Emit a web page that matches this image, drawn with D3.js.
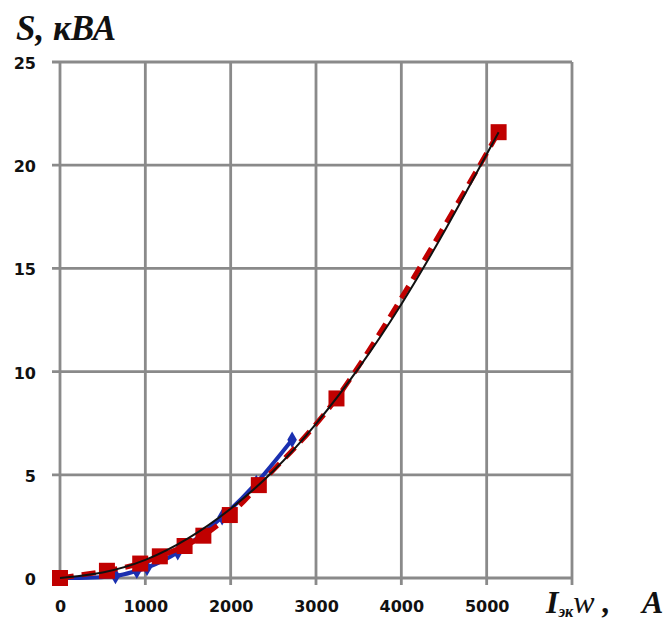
<!DOCTYPE html>
<html>
<head>
<meta charset="utf-8">
<script src="https://cdn.jsdelivr.net/npm/d3@7"></script>
<style>
  body { margin: 0; background: #fff; }
  svg { display: block; }
  .tick text { font-family: "DejaVu Sans", sans-serif; font-weight: bold; font-size: 16px; fill: #111; }
</style>
</head>
<body>
<svg id="chart" width="669" height="625"></svg>
<script>
// ticks
var xTicks = [0, 1000, 2000, 3000, 4000, 5000, 6000];
var yTicks = [0, 5, 10, 15, 20, 25];

// red squares (dashed line)
var redX = [0, 550, 940, 1170, 1460, 1680, 1990, 2330, 3240, 5140];
var redY = [0, 0.35, 0.7, 1.05, 1.55, 2.05, 3.05, 4.5, 8.7, 21.6];

// blue diamonds
var blueX = [0, 650, 900, 1020, 1380, 1900, 2300, 2720];
var blueY = [0, 0.1, 0.35, 0.5, 1.25, 2.95, 4.6, 6.7];

// black trend line
var fitX = [0, 500, 1000, 1500, 2000, 2500, 3000, 3500, 4000, 4500, 5140];
var fitY = [0, 0.2, 0.8, 1.85, 3.3, 5.1, 7.4, 10.1, 13.2, 16.7, 21.6];

var svg = d3.select("#chart");

var x = d3.scaleLinear().domain([0, 6000]).range([60, 572]);
var y = d3.scaleLinear().domain([0, 25]).range([578, 62]);

function zip(xs, ys) { return xs.map(function(v, i) { return [v, ys[i]]; }); }

// grid lines (vertical ones poke out below as ticks)
svg.append("g")
  .selectAll("line")
  .data(xTicks)
  .enter().append("line")
  .attr("x1", function(d) { return x(d); })
  .attr("x2", function(d) { return x(d); })
  .attr("y1", y(25))
  .attr("y2", y(0) + 7)
  .attr("stroke", "#8a8a8a")
  .attr("stroke-width", 2.8);

svg.append("g")
  .selectAll("line")
  .data(yTicks)
  .enter().append("line")
  .attr("x1", x(0) - 8)
  .attr("x2", x(6000))
  .attr("y1", function(d) { return y(d); })
  .attr("y2", function(d) { return y(d); })
  .attr("stroke", "#8a8a8a")
  .attr("stroke-width", 2.8);

// tick labels through axes, without their own lines
svg.append("g")
  .attr("transform", "translate(0," + y(0) + ")")
  .call(d3.axisBottom(x).tickValues(xTicks.slice(0, 6)).tickSize(0).tickPadding(23).tickFormat(d3.format("d")));
var yAxis = svg.append("g")
  .attr("transform", "translate(" + x(0) + ",0)")
  .call(d3.axisLeft(y).tickValues(yTicks).tickSize(0).tickPadding(24));
svg.selectAll(".domain").remove();
yAxis.selectAll("text").attr("dy", "0.4em");

var line = d3.line().x(function(d) { return x(d[0]); }).y(function(d) { return y(d[1]); });

// blue series
svg.append("path")
  .datum(zip(blueX, blueY))
  .attr("d", line.curve(d3.curveCatmullRom))
  .attr("fill", "none")
  .attr("stroke", "#1a2fb0")
  .attr("stroke-width", 4);

svg.append("g")
  .selectAll("path")
  .data(zip(blueX, blueY).slice(1))
  .enter().append("path")
  .attr("d", d3.symbol(d3.symbolDiamond, 80))
  .attr("transform", function(d) { return "translate(" + x(d[0]) + "," + y(d[1]) + ")"; })
  .attr("fill", "#1a2fb0");

// red series, dashed
svg.append("path")
  .datum(zip(redX, redY))
  .attr("d", line.curve(d3.curveCatmullRom))
  .attr("fill", "none")
  .attr("stroke", "#c00000")
  .attr("stroke-width", 5)
  .attr("stroke-dasharray", "14,8");

svg.append("g")
  .selectAll("rect")
  .data(zip(redX, redY))
  .enter().append("rect")
  .attr("x", function(d) { return x(d[0]) - 8; })
  .attr("y", function(d) { return y(d[1]) - 8; })
  .attr("width", 16)
  .attr("height", 16)
  .attr("fill", "#c00000");

// black fitted curve
svg.append("path")
  .datum(zip(fitX, fitY))
  .attr("d", line.curve(d3.curveBasis))
  .attr("fill", "none")
  .attr("stroke", "#111")
  .attr("stroke-width", 2);

// axis titles
svg.append("text")
  .attr("x", 16)
  .attr("y", 40)
  .attr("font-family", "Liberation Serif, serif")
  .attr("font-style", "italic")
  .attr("font-weight", "bold")
  .attr("font-size", 35)
  .attr("fill", "#111")
  .text("S, кВА");

var xt = svg.append("text")
  .attr("x", 546)
  .attr("y", 613)
  .attr("font-family", "Liberation Serif, serif")
  .attr("font-style", "italic")
  .attr("font-weight", "bold")
  .attr("font-size", 32)
  .attr("fill", "#111");
xt.append("tspan").text("I");
xt.append("tspan").attr("font-size", 16).attr("dy", 4).text("эк");
xt.append("tspan").attr("dy", -4).attr("font-weight", "normal").text("w");
xt.append("tspan").text(" ,");
xt.append("tspan").attr("x", 642).text("A");
</script>
</body>
</html>
